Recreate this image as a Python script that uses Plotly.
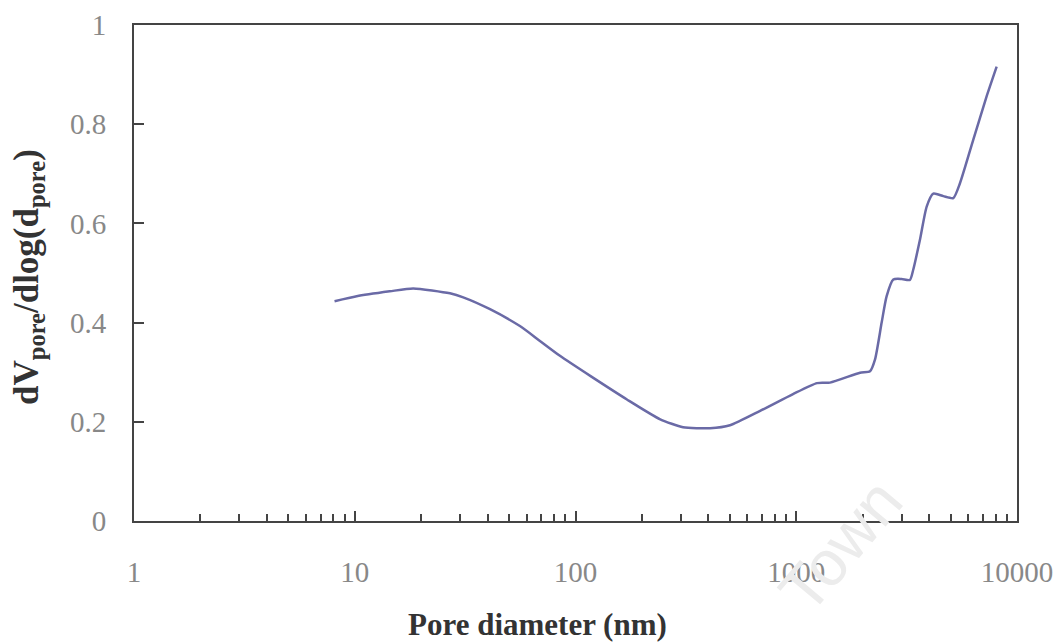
import plotly.graph_objects as go

# Pore diameter (nm) and dV/dlog(d) values
pore_diameter = [8.1, 10.2, 14.4, 18.4, 27, 31, 41, 56, 69, 85, 118, 171, 242, 307,
                 407, 501, 686, 967, 1242, 1422, 1945, 2158, 2275, 2437, 2566, 2752,
                 3001, 3273, 3390, 3634, 3898, 4178, 4637, 5144, 5516, 6340, 7283, 8088]
dv_dlogd = [0.443, 0.453, 0.463, 0.469, 0.459, 0.451, 0.427, 0.393, 0.363, 0.333, 0.291,
            0.245, 0.205, 0.189, 0.187, 0.193, 0.222, 0.256, 0.278, 0.279, 0.299, 0.302,
            0.326, 0.400, 0.453, 0.487, 0.488, 0.486, 0.507, 0.567, 0.634, 0.660, 0.655,
            0.651, 0.681, 0.769, 0.856, 0.916]

x_tickvals = [1, 10, 100, 1000, 10000]
x_ticktext = ["1", "10", "100", "1000", "10000"]
y_tickvals = [0, 0.2, 0.4, 0.6, 0.8, 1]
y_ticktext = ["0", "0.2", "0.4", "0.6", "0.8", "1"]

serif = "Liberation Serif, Times New Roman, serif"

fig = go.Figure()
fig.add_trace(go.Scatter(
    x=pore_diameter, y=dv_dlogd, mode="lines",
    line=dict(color="#6a6aa6", width=2.5, shape="spline", smoothing=0.6),
    showlegend=False,
))

fig.update_xaxes(
    type="log", range=[0, 4],
    tickvals=x_tickvals, ticktext=x_ticktext,
    ticks="inside", ticklen=10, tickwidth=1.5, tickcolor="#444",
    minor=dict(ticks="inside", ticklen=7, tickwidth=1.5, tickcolor="#444",
               showgrid=False, dtick="D1"),
    showline=True, linecolor="#444", linewidth=2, mirror=True,
    showgrid=False, zeroline=False,
    tickfont=dict(family=serif, size=29, color="#888"),
    ticklabelstandoff=24,
)
fig.update_yaxes(
    range=[0, 1],
    tickvals=y_tickvals, ticktext=y_ticktext,
    ticks="inside", ticklen=10, tickwidth=1.5, tickcolor="#444",
    showline=True, linecolor="#444", linewidth=2, mirror=True,
    showgrid=False, zeroline=False,
    tickfont=dict(family=serif, size=29, color="#888"),
    ticklabelstandoff=20,
)

fig.add_annotation(
    text="<b>dV<sub>pore</sub>/dlog(d<sub>pore</sub>)</b>",
    xref="paper", yref="paper", x=0, y=0.5, xanchor="center", yanchor="middle",
    xshift=-106, yshift=-4, textangle=-90, showarrow=False,
    font=dict(family=serif, size=35, color="#333"),
)
fig.add_annotation(
    text="<b>Pore diameter (nm)</b>",
    xref="paper", yref="paper", x=0.5, y=0, xanchor="center", yanchor="middle",
    xshift=-38, yshift=-103, showarrow=False,
    font=dict(family=serif, size=31, color="#333"),
)
# faint watermark
fig.add_annotation(
    text="Town", xref="paper", yref="paper", x=0.80, y=-0.05,
    xanchor="center", yanchor="middle", textangle=-50, showarrow=False,
    font=dict(family="Liberation Sans, Arial, sans-serif", size=64, color="#ececec"),
)

fig.update_layout(
    width=1063, height=644,
    margin=dict(l=134, r=46, t=25, b=123, autoexpand=False),
    paper_bgcolor="white", plot_bgcolor="white",
)

fig.write_html("out.html")
